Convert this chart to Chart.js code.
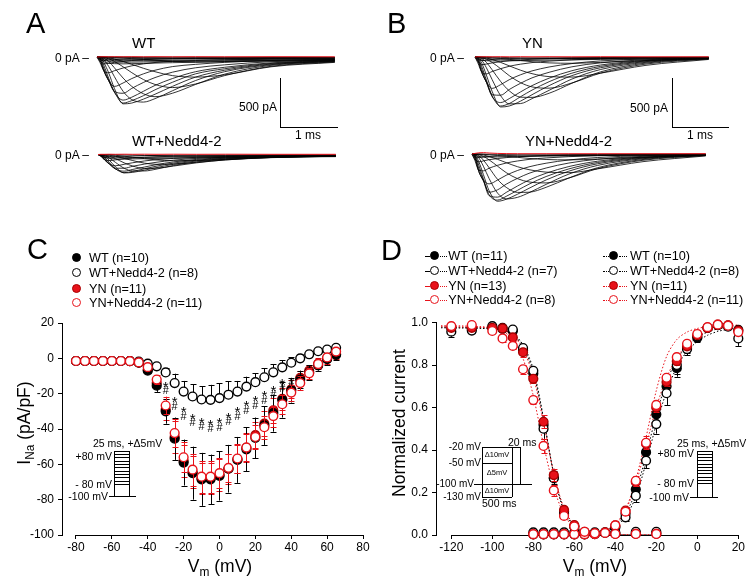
<!DOCTYPE html>
<html><head><meta charset="utf-8">
<script src="https://cdn.jsdelivr.net/npm/chart.js@4.4.1/dist/chart.umd.min.js"></script>
<style>
html,body{margin:0;padding:0;background:#fff;}
#wrap{position:relative;width:750px;height:584px;overflow:hidden;background:#fff;font-family:"Liberation Sans",Arial,sans-serif;color:#000;}
canvas{position:absolute;left:0;top:0;}
.t{position:absolute;white-space:nowrap;line-height:1;}
.ln{position:absolute;background:#000;}
.sb{font-size:0.68em;position:relative;top:0.32em;}
</style></head>
<body><div id="wrap"></div>
<script>
// ---------------- DATA ----------------
// Panels A/B: current traces, time (ms) and current (pA)
const T = [0, 0.05, 0.12, 0.2, 0.3, 0.45, 0.6, 0.8, 1.0, 1.3, 1.7, 2.2, 3.0, 4.1];
const wtRed = [0,2,3,2,3,2,3,2,3,2,3,2,3,2];
const wtTraces = [
 [0,0,0,-1,-2,-3,-5,-7,-9,-12,-14,-14,-12,-10],
 [0,0,-1,-3,-6,-11,-17,-25,-33,-43,-50,-46,-35,-25],
 [0,0,-3,-8,-20,-45,-75,-115,-150,-190,-205,-182,-100,-55],
 [0,-1,-6,-18,-45,-100,-160,-230,-280,-312,-275,-190,-95,-50],
 [0,-2,-14,-45,-110,-215,-300,-375,-405,-370,-280,-175,-85,-46],
 [0,-3,-30,-95,-200,-350,-435,-460,-425,-345,-240,-150,-78,-43],
 [0,-5,-60,-160,-320,-478,-470,-430,-380,-300,-205,-135,-72,-40],
 [0,-10,-90,-215,-355,-470,-445,-395,-335,-258,-172,-120,-66,-38],
 [0,-15,-120,-235,-360,-440,-410,-350,-290,-220,-150,-105,-60,-35],
 [0,-25,-145,-240,-350,-370,-320,-260,-210,-155,-110,-80,-48,-30],
 [0,-35,-145,-240,-300,-265,-220,-172,-135,-98,-75,-55,-36,-25],
 [0,-55,-140,-160,-140,-112,-90,-70,-56,-44,-36,-29,-20,-15],
 [0,-40,-70,-65,-55,-45,-36,-28,-22,-17,-14,-12,-10,-8],
 [0,-25,-35,-30,-26,-22,-19,-16,-14,-12,-10,-9,-7,-6],
 [0,-20,-48,-62,-68,-70,-68,-65,-62,-58,-54,-48,-42,-34],
 [0,-12,-32,-44,-50,-52,-52,-50,-48,-45,-42,-38,-33,-27],
 [0,-8,-20,-30,-36,-38,-38,-37,-36,-34,-31,-28,-24,-20],
 [0,-4,-10,-16,-20,-22,-23,-23,-22,-21,-19,-17,-15,-12],
 [0,0,0,0,-1,-1,-1,-2,-2,-2,-3,-3,-3,-3]
];
const wtnRed = [0,2,2,3,2,3,2,3,2,3,2,3,2,2];
const wtnTraces = [
 [0,0,0,-1,-2,-4,-6,-9,-12,-15,-17,-15,-11,-8],
 [0,0,-1,-3,-8,-17,-28,-42,-55,-64,-62,-50,-30,-18],
 [0,0,-3,-8,-18,-40,-62,-88,-100,-98,-80,-55,-32,-18],
 [0,-1,-6,-18,-42,-85,-118,-142,-140,-118,-85,-55,-30,-17],
 [0,-1,-12,-38,-80,-140,-168,-168,-150,-112,-75,-48,-28,-16],
 [0,-2,-22,-62,-125,-188,-182,-160,-135,-100,-66,-43,-26,-15],
 [0,-4,-35,-85,-145,-185,-172,-146,-120,-88,-58,-38,-24,-14],
 [0,-6,-48,-98,-148,-170,-152,-128,-104,-76,-50,-34,-22,-13],
 [0,-10,-58,-100,-140,-140,-120,-98,-80,-58,-40,-28,-18,-12],
 [0,-14,-58,-98,-115,-100,-84,-66,-53,-40,-29,-21,-14,-10],
 [0,-20,-55,-62,-55,-44,-36,-29,-23,-18,-14,-11,-8,-6],
 [0,-15,-28,-26,-22,-18,-15,-12,-10,-8,-7,-6,-5,-4],
 [0,-12,-30,-40,-45,-46,-45,-43,-40,-37,-34,-30,-26,-22],
 [0,-6,-16,-24,-28,-30,-30,-29,-28,-26,-24,-21,-18,-15]
];
const ynRed = [0,3,2,3,2,3,2,3,2,3,2,3,2,2];
const ynTraces = [
 [0,0,0,-1,-2,-4,-6,-9,-12,-15,-17,-15,-10,-6],
 [0,0,-1,-3,-8,-15,-24,-36,-48,-60,-64,-55,-36,-18],
 [0,0,-3,-10,-25,-55,-90,-135,-170,-200,-205,-165,-85,-25],
 [0,-1,-7,-22,-55,-120,-190,-262,-305,-318,-265,-165,-72,-20],
 [0,-2,-16,-55,-130,-250,-345,-410,-412,-370,-268,-152,-62,-17],
 [0,-3,-35,-110,-230,-395,-478,-475,-425,-340,-225,-128,-54,-15],
 [0,-6,-65,-185,-350,-510,-500,-450,-385,-292,-190,-110,-47,-13],
 [0,-12,-100,-235,-395,-500,-475,-405,-338,-252,-165,-96,-41,-12],
 [0,-18,-130,-255,-405,-465,-425,-356,-292,-216,-140,-82,-36,-11],
 [0,-28,-160,-258,-385,-390,-332,-268,-213,-156,-100,-60,-28,-9],
 [0,-40,-160,-255,-320,-282,-232,-181,-142,-102,-67,-40,-20,-7],
 [0,-60,-155,-172,-148,-119,-95,-73,-57,-42,-29,-18,-10,-4],
 [0,-45,-78,-72,-60,-48,-38,-30,-23,-17,-12,-8,-5,-3],
 [0,-25,-35,-30,-25,-20,-16,-13,-10,-8,-6,-5,-4,-3],
 [0,-14,-32,-38,-40,-40,-39,-37,-35,-32,-29,-25,-21,-17],
 [0,-6,-14,-18,-20,-21,-21,-20,-19,-18,-16,-14,-12,-10]
];
const ynnRed = [0,6,12,14,10,6,4,3,3,3,3,3,3,3];
const ynnTraces = [
 [0,0,0,-1,-2,-4,-6,-8,-11,-14,-16,-14,-9,-5],
 [0,0,-1,-3,-8,-15,-23,-34,-45,-56,-60,-52,-33,-15],
 [0,0,-3,-10,-25,-55,-88,-130,-160,-185,-190,-152,-78,-20],
 [0,-1,-8,-24,-60,-125,-190,-252,-285,-295,-245,-150,-64,-15],
 [0,-2,-18,-62,-140,-260,-340,-392,-390,-340,-245,-140,-56,-13],
 [0,-4,-40,-125,-250,-400,-458,-442,-395,-310,-205,-117,-48,-11],
 [0,-8,-80,-210,-375,-482,-462,-410,-350,-265,-175,-100,-42,-10],
 [0,-14,-115,-255,-415,-470,-432,-370,-308,-230,-152,-87,-37,-9],
 [0,-20,-150,-270,-425,-440,-392,-326,-266,-196,-128,-74,-32,-8],
 [0,-30,-180,-275,-390,-365,-308,-248,-197,-143,-92,-54,-24,-7],
 [0,-45,-180,-265,-305,-265,-217,-168,-131,-94,-61,-36,-17,-5],
 [0,-65,-165,-172,-145,-115,-92,-71,-55,-40,-27,-17,-9,-3],
 [0,-50,-80,-70,-58,-46,-37,-28,-22,-16,-11,-7,-4,-2],
 [0,-28,-36,-30,-25,-20,-16,-13,-10,-8,-6,-4,-3,-2],
 [0,-12,-26,-30,-31,-30,-29,-27,-25,-22,-19,-16,-13,-10]
];

// Panel C: I-V (pA/pF)
const vC = [-80,-75,-70,-65,-60,-55,-50,-45,-40,-35,-30,-25,-20,-15,-10,-5,0,5,10,15,20,25,30,35,40,45,50,55,60,65];
const ivWT    = [-1.5,-1.5,-1.5,-1.5,-1.5,-1.5,-1.6,-2.5,-7,-15.5,-30,-45.5,-59,-65,-68.5,-68.5,-66.5,-62.5,-57.5,-51.5,-45,-38,-31,-23.5,-18,-12,-8,-4,-0.5,2];
const ivWTsem = [0.3,0.3,0.3,0.3,0.3,0.3,0.3,0.5,1.5,3.5,7,12,13,15,15,14,14,13.5,13,12.5,11.5,11,10.5,10,7,5,4,3,3,3];
const ivWTN    = [-1.5,-1.5,-1.5,-1.5,-1.5,-1.5,-1.5,-1.8,-3,-4.5,-8,-14,-18.8,-21.6,-23.3,-23.5,-22.5,-20.6,-18.8,-16,-13.5,-10.7,-7.9,-5.1,-2.5,0,2.3,4,5,6];
const ivWTNsem = [0.2,0.2,0.2,0.2,0.2,0.2,0.2,0.3,0.5,1,2.5,5.3,6,7,7.5,8.5,8.5,7.5,6,5.6,5,5,4.7,4,3,2.5,2,1.5,1,1];
const ivYN    = [-1.5,-1.5,-1.5,-1.5,-1.5,-1.5,-1.6,-2.5,-6.5,-14,-29,-44.5,-58,-64.5,-68,-68,-66,-62.5,-57,-50.5,-43.5,-37,-29.5,-23,-17.5,-11,-7,-3,0,2.5];
const ivYNsem = [0.3,0.3,0.3,0.3,0.3,0.3,0.3,0.5,1.2,3,6,9,9,9,9,9,9,8.5,8,8,7.5,7,7,6,5,4,3,3,3,3];
const ivYNN    = [-1.5,-1.5,-1.5,-1.5,-1.5,-1.5,-1.6,-2.3,-5,-12,-26.7,-42.3,-56,-63,-67,-67,-65,-62,-56.7,-50.5,-44.5,-39,-32.7,-26,-19.4,-14,-8.5,-3.2,0.5,3.8];
const ivYNNsem = [0.3,0.3,0.3,0.3,0.3,0.3,0.3,0.5,1.2,2.5,5,8,8.5,9,9,9,8.5,8,8,7.5,7,6.5,6,5.5,4.5,4,3,2.5,2,2];
const sigStarV = [-30,-25,-20,-15,-10,-5,0,5,10,15,20,25,30,35];
const sigHashV = [-30,-25,-20,-15,-10,-5,0,5,10,15,20,25,30,35,40];
const xTicksC = [-80,-60,-40,-20,0,20,40,60,80];
const yTicksC = [-100,-80,-60,-40,-20,0,20];

// Panel D: steady-state inactivation and activation (normalized)
const vInact = [-120,-110,-100,-95,-90,-85,-80,-75,-70,-65,-60,-55,-50,-40,-30,-20];
const inWT    = [0.975,0.97,0.975,0.97,0.96,0.87,0.76,0.518,0.27,0.11,0.04,0.012,0.005,0.008,0.008,0.008];
const inWTerr = [0.01,0.01,0.01,0.01,0.01,0.02,0.02,0.03,0.03,0.02,0.01,0.005,0.003,0.003,0.003,0.003];
const inWTN    = [0.957,0.962,0.983,0.975,0.967,0.88,0.773,0.5,0.267,0.1,0.04,0.012,0.006,0.012,0.015,0.015];
const inWTNerr = [0.024,0.01,0.01,0.01,0.01,0.02,0.025,0.05,0.04,0.02,0.01,0.005,0.003,0.003,0.003,0.003];
const inYN    = [0.975,0.975,0.975,0.972,0.93,0.86,0.735,0.533,0.282,0.118,0.047,0.015,0.008,0.005,0.005,0.005];
const inYNerr = [0.01,0.01,0.01,0.01,0.015,0.02,0.02,0.03,0.03,0.015,0.01,0.005,0.003,0.003,0.003,0.003];
const inYNN    = [0.983,0.988,0.96,0.925,0.89,0.78,0.635,0.419,0.21,0.09,0.04,0.015,0.008,0.005,0.005,0.005];
const inYNNerr = [0.01,0.01,0.01,0.015,0.015,0.02,0.02,0.035,0.025,0.015,0.01,0.005,0.003,0.003,0.003,0.003];

const vAct = [-80,-75,-70,-65,-60,-55,-50,-45,-40,-35,-30,-25,-20,-15,-10,-5,0,5,10,15,20];
const acWT    = [0.003,0.003,0.003,0.003,0.003,0.003,0.004,0.01,0.04,0.1,0.215,0.39,0.568,0.7,0.785,0.88,0.928,0.975,0.988,0.985,0.965];
const acWTerr = [0,0,0,0,0,0,0.002,0.004,0.01,0.015,0.03,0.025,0.03,0.04,0.04,0.025,0.02,0.01,0.005,0.008,0.01];
const acWTN    = [0.012,0.012,0.012,0.012,0.012,0.012,0.012,0.012,0.035,0.083,0.185,0.35,0.522,0.667,0.8,0.875,0.935,0.975,0.988,0.98,0.925];
const acWTNerr = [0.003,0.003,0.003,0.003,0.003,0.003,0.003,0.005,0.01,0.015,0.03,0.035,0.045,0.055,0.04,0.03,0.02,0.01,0.005,0.01,0.035];
const acYN    = [0.003,0.003,0.003,0.003,0.003,0.003,0.005,0.012,0.045,0.115,0.25,0.43,0.6,0.72,0.818,0.888,0.94,0.975,0.99,0.987,0.962];
const acYNerr = [0,0,0,0,0,0,0.002,0.004,0.01,0.015,0.02,0.02,0.02,0.02,0.02,0.015,0.01,0.01,0.005,0.005,0.01];
const acYNN    = [0.004,0.004,0.004,0.004,0.004,0.004,0.004,0.01,0.045,0.11,0.255,0.434,0.612,0.74,0.837,0.9,0.946,0.978,0.99,0.985,0.955];
const acYNNerr = [0,0,0,0,0,0,0.002,0.004,0.01,0.015,0.025,0.03,0.02,0.02,0.015,0.015,0.01,0.01,0.005,0.005,0.01];

// Boltzmann fit curves (dotted)
const fitVInact = [-125,-115,-105,-100,-95,-90,-85,-80,-75,-70,-65,-60,-55,-50,-45,-40,-30,-20];
const fitInWT  = [0.978,0.977,0.975,0.972,0.965,0.945,0.885,0.765,0.545,0.29,0.12,0.045,0.016,0.006,0.002,0.001,0,0];
const fitInWTN = [0.975,0.974,0.972,0.97,0.965,0.948,0.895,0.78,0.55,0.285,0.112,0.04,0.014,0.005,0.002,0.001,0,0];
const fitInYN  = [0.98,0.979,0.977,0.974,0.965,0.94,0.875,0.745,0.53,0.29,0.125,0.048,0.017,0.006,0.002,0.001,0,0];
const fitInYNN = [0.985,0.984,0.98,0.975,0.96,0.92,0.83,0.655,0.425,0.225,0.095,0.036,0.013,0.005,0.002,0.001,0,0];
const fitVAct = [-80,-70,-60,-55,-50,-45,-40,-35,-30,-25,-20,-15,-10,-5,0,5,10,15,20];
const fitAcWT  = [0,0,0.001,0.003,0.008,0.02,0.045,0.1,0.205,0.375,0.565,0.72,0.825,0.89,0.93,0.955,0.97,0.978,0.982];
const fitAcWTN = [0,0,0.001,0.002,0.006,0.016,0.038,0.085,0.18,0.34,0.52,0.675,0.79,0.865,0.91,0.94,0.958,0.968,0.975];
const fitAcYN  = [0,0,0.001,0.003,0.009,0.022,0.05,0.115,0.24,0.42,0.6,0.74,0.835,0.895,0.935,0.958,0.972,0.98,0.984];
const fitAcYNN = [0,0,0.001,0.003,0.008,0.02,0.05,0.12,0.26,0.46,0.68,0.84,0.92,0.955,0.972,0.98,0.985,0.987,0.988];
const xTicksD = [-120,-100,-80,-60,-40,-20,0,20];
const yTicksD = [0,0.2,0.4,0.6,0.8,1.0];

// ---------------- RENDER ----------------
const RED = '#e8121a', DRED = '#a80000';
const FONT = '"Liberation Sans", Arial, sans-serif';
Chart.defaults.font.family = FONT;
Chart.defaults.color = '#000';
const wrap = document.getElementById('wrap');

function mkCanvas(){
  const c = document.createElement('canvas');
  c.width = 750; c.height = 584; c.style.width = '750px'; c.style.height = '584px';
  wrap.appendChild(c); return c;
}
function txt(s, x, y, size, opt){
  opt = opt || {};
  const d = document.createElement('div'); d.className = 't'; d.innerHTML = s;
  d.style.left = x + 'px'; d.style.top = y + 'px'; d.style.fontSize = size + 'px';
  const ax = opt.align === 'right' ? '-100%' : opt.align === 'center' ? '-50%' : '0';
  d.style.transform = opt.rot ? 'translate(-50%,-50%) rotate(-90deg)' : 'translate(' + ax + ',-50%)';
  if (opt.color) d.style.color = opt.color;
  if (opt.bg) d.style.background = opt.bg;
  wrap.appendChild(d); return d;
}
function line(x1, y1, x2, y2, color){
  const d = document.createElement('div'); d.className = 'ln';
  d.style.left = Math.min(x1, x2) + 'px'; d.style.top = Math.min(y1, y2) + 'px';
  d.style.width = Math.max(Math.abs(x2 - x1), 1) + 'px';
  d.style.height = Math.max(Math.abs(y2 - y1), 1) + 'px';
  if (color) d.style.background = color;
  wrap.appendChild(d);
}
function dotted(x1, x2, y, color){
  const d = document.createElement('div');
  d.style.cssText = 'position:absolute;left:' + x1 + 'px;top:' + y + 'px;width:' + (x2 - x1) + 'px;height:0;border-top:1px dotted ' + color + ';';
  wrap.appendChild(d);
}
function sym(x, y, fill, stroke){
  const d = document.createElement('div');
  d.style.cssText = 'position:absolute;left:' + (x - 5) + 'px;top:' + (y - 5) + 'px;width:7px;height:7px;border-radius:50%;border:1.5px solid ' + stroke + ';background:' + fill + ';';
  wrap.appendChild(d);
}

// trace charts (A,B)
function traceChart(traces, redTrace, g){
  const tmin = -0.05, tmax = 4.15;
  const left = g.t0x + tmin * g.pxms, right = g.t0x + tmax * g.pxms;
  const yMax = (g.zeroY - g.top) / g.pxpa, yMin = -(g.bottom - g.zeroY) / g.pxpa;
  const ds = [{data: T.map((t, i) => ({x: t, y: redTrace[i]})), borderColor: RED, borderWidth: 1}];
  traces.forEach(tr => ds.push({data: T.map((t, i) => ({x: t, y: tr[i]})), borderColor: '#000', borderWidth: 0.8}));
  new Chart(mkCanvas(), {
    type: 'line', data: {datasets: ds},
    options: {
      responsive: false, animation: false, devicePixelRatio: 1, events: [],
      layout: {padding: {left: left, right: 750 - right, top: g.top, bottom: 584 - g.bottom}},
      elements: {point: {radius: 0}, line: {cubicInterpolationMode: 'monotone', fill: false}},
      plugins: {legend: {display: false}, tooltip: {enabled: false}},
      scales: {x: {type: 'linear', min: tmin, max: tmax, display: false},
               y: {type: 'linear', min: yMin, max: yMax, display: false}}
    }
  });
}
const PXPA = 49 / 500;
traceChart(wtTraces, wtRed,  {t0x: 97,  pxms: 58, zeroY: 57,    pxpa: PXPA, top: 45,  bottom: 118});
traceChart(wtnTraces, wtnRed, {t0x: 98,  pxms: 58, zeroY: 154.5, pxpa: PXPA, top: 143, bottom: 186});
traceChart(ynTraces, ynRed,  {t0x: 475, pxms: 57, zeroY: 57,    pxpa: PXPA, top: 45,  bottom: 118});
traceChart(ynnTraces, ynnRed, {t0x: 472, pxms: 57, zeroY: 154,   pxpa: PXPA, top: 140, bottom: 206});

// plugins for C, D
const errPlugin = {id: 'errbars', beforeDatasetDraw(chart, args){
  const ds = chart.data.datasets[args.index]; if (!ds.errors) return;
  const ctx = chart.ctx, ys = chart.scales.y;
  ctx.save(); ctx.strokeStyle = ds.errColor; ctx.lineWidth = 1;
  args.meta.data.forEach((pt, i) => {
    const v = ds.data[i].y, e = ds.errors[i]; if (!e) return;
    const yT = ys.getPixelForValue(v + e), yB = ys.getPixelForValue(v - e);
    const x = Math.round(pt.x) + 0.5;
    const a = ds.errDir === 'down' ? pt.y : yT, b = ds.errDir === 'up' ? pt.y : yB;
    ctx.beginPath(); ctx.moveTo(x, a); ctx.lineTo(x, b);
    if (ds.errDir !== 'down') { ctx.moveTo(x - 3, Math.round(yT) + 0.5); ctx.lineTo(x + 3, Math.round(yT) + 0.5); }
    if (ds.errDir !== 'up') { ctx.moveTo(x - 3, Math.round(yB) + 0.5); ctx.lineTo(x + 3, Math.round(yB) + 0.5); }
    ctx.stroke();
  });
  ctx.restore();
}};
const xLinePlugin = {id: 'xline', beforeDatasetsDraw(chart){
  const xs = chart.scales.x, tk = xs.ticks; const ctx = chart.ctx;
  const y = Math.round(chart.chartArea.bottom) + 0.5;
  ctx.save(); ctx.strokeStyle = '#000'; ctx.lineWidth = 1; ctx.beginPath();
  ctx.moveTo(xs.getPixelForValue(tk[0].value), y); ctx.lineTo(xs.getPixelForValue(tk[tk.length - 1].value), y);
  ctx.stroke(); ctx.restore();
}};
const sigPlugin = {id: 'sig', afterDatasetsDraw(chart){
  const xs = chart.scales.x, ys = chart.scales.y, ctx = chart.ctx;
  ctx.save(); ctx.fillStyle = '#000'; ctx.textAlign = 'center'; ctx.textBaseline = 'alphabetic';
  sigHashV.forEach(v => {
    const i = vC.indexOf(v); const x = xs.getPixelForValue(v);
    const base = ys.getPixelForValue(ivWTN[i] - ivWTNsem[i]);
    if (sigStarV.indexOf(v) >= 0) { ctx.font = '15px ' + FONT; ctx.fillText('*', x, base + 6 + 9); }
    ctx.font = '11px ' + FONT; ctx.fillText('#', x, base + 13 + 4.5);
  });
  ctx.restore();
}};

function pts(xs, ys, errs, dir, bg, bd, ec){
  return {data: xs.map((x, i) => ({x: x, y: ys[i]})), errors: errs, errDir: dir, errColor: ec,
          backgroundColor: bg, borderColor: bd, pointBackgroundColor: bg, pointBorderColor: bd,
          pointRadius: 4.4, pointHoverRadius: 4.4, pointBorderWidth: 1.4, showLine: false, clip: false};
}
function fit(xs, ys, color){
  return {data: xs.map((x, i) => ({x: x, y: ys[i]})), showLine: true, pointRadius: 0, borderColor: color,
          borderWidth: 1, borderDash: [1.5, 2], fill: false, tension: 0.3};
}
function axisOpts(min, max, ticksArr, fmt, isX){
  return {
    type: 'linear', min: min, max: max,
    afterBuildTicks: s => { s.ticks = ticksArr.map(v => ({value: v})); },
    afterFit: s => { if (isX) s.height = 30; else s.width = 40; },
    border: {display: !isX, color: '#000', width: 1},
    grid: {display: true, drawOnChartArea: false, drawTicks: true, tickLength: 4, color: '#000', tickColor: '#000', lineWidth: 1},
    ticks: {font: {size: 12}, color: '#000', padding: isX ? 1 : 4, autoSkip: false, maxRotation: 0, callback: fmt}
  };
}

// Panel C chart: chart area x 62..363, y 323..535
new Chart(mkCanvas(), {
  type: 'scatter',
  data: {datasets: [
    pts(vC, ivYNN, ivYNNsem, 'both', '#fff', RED, RED),
    pts(vC, ivWT, ivWTsem, 'both', '#000', '#000', '#000'),
    pts(vC, ivYN, ivYNsem, 'both', RED, DRED, RED),
    pts(vC, ivWTN, ivWTNsem, 'up', '#fff', '#000', '#000')
  ]},
  options: {
    responsive: false, animation: false, devicePixelRatio: 1, events: [],
    layout: {padding: {left: 22, right: 750 - 363, top: 323, bottom: 584 - 535 - 30}},
    plugins: {legend: {display: false}, tooltip: {enabled: false}},
    scales: {
      x: axisOpts(-80 - 14 / 1.794, 80, xTicksC, v => String(v), true),
      y: axisOpts(-100, 20, yTicksC, v => String(v), false)
    }
  },
  plugins: [errPlugin, xLinePlugin, sigPlugin]
});

// Panel D chart: chart area x 436..738.3, y 322.5..535
new Chart(mkCanvas(), {
  type: 'scatter',
  data: {datasets: [
    pts(vInact, inYNN, inYNNerr, 'both', '#fff', RED, RED),
    pts(vAct, acYNN, acYNNerr, 'both', '#fff', RED, RED),
    pts(vInact, inYN, inYNerr, 'both', RED, DRED, RED),
    pts(vAct, acYN, acYNerr, 'both', RED, DRED, RED),
    pts(vInact, inWTN, inWTNerr, 'down', '#fff', '#000', '#000'),
    pts(vAct, acWTN, acWTNerr, 'down', '#fff', '#000', '#000'),
    pts(vInact, inWT, inWTerr, 'both', '#000', '#000', '#000'),
    pts(vAct, acWT, acWTerr, 'both', '#000', '#000', '#000'),
    fit(fitVInact, fitInYNN, RED), fit(fitVInact, fitInYN, RED),
    fit(fitVInact, fitInWTN, '#000'), fit(fitVInact, fitInWT, '#000'),
    fit(fitVAct, fitAcYNN, RED), fit(fitVAct, fitAcYN, RED),
    fit(fitVAct, fitAcWTN, '#000'), fit(fitVAct, fitAcWT, '#000')
  ]},
  options: {
    responsive: false, animation: false, devicePixelRatio: 1, events: [],
    layout: {padding: {left: 396, right: 750 - 738.3, top: 322.5, bottom: 584 - 535 - 30}},
    plugins: {legend: {display: false}, tooltip: {enabled: false}},
    scales: {
      x: axisOpts(-120 - (451.3 - 436) / 2.05, 20, xTicksD, v => String(v), true),
      y: axisOpts(0, 1, yTicksD, v => v.toFixed(1), false)
    }
  },
  plugins: [errPlugin, xLinePlugin]
});

// ---------------- TEXT / ANNOTATIONS ----------------
txt('A', 26, 23, 29); txt('B', 387, 23, 29); txt('C', 27, 249, 29); txt('D', 381, 250, 29);
txt('WT', 132, 42, 15); txt('WT+Nedd4-2', 132, 140, 15);
txt('YN', 522, 42, 15); txt('YN+Nedd4-2', 525, 140, 15);
txt('0 pA \u2013', 55, 58, 12); txt('0 pA \u2013', 55, 155, 12);
txt('0 pA \u2013', 430, 58, 12); txt('0 pA \u2013', 430, 155, 12);
// scale bars
line(280, 78, 280, 127); line(280, 127, 338, 127);
txt('500 pA', 277, 107, 12, {align: 'right'}); txt('1 ms', 295, 135, 12);
line(672, 78, 672, 127); line(672, 127, 729, 127);
txt('500 pA', 668, 108, 12, {align: 'right'}); txt('1 ms', 687, 135, 12);

// legend C
const legC = [['WT (n=10)', '#000', '#000'], ['WT+Nedd4-2 (n=8)', '#fff', '#000'], ['YN (n=11)', RED, DRED], ['YN+Nedd4-2 (n=11)', '#fff', RED]];
const legCy = [258.3, 273.3, 289, 303.3];
legC.forEach((l, i) => { sym(77.3, legCy[i], l[1], l[2]); txt(l[0], 89, legCy[i], 12.7); });

// legend D
const legDL = [['WT (n=11)', '#000', '#000', '#000'], ['WT+Nedd4-2 (n=7)', '#fff', '#000', '#000'], ['YN (n=13)', RED, DRED, RED], ['YN+Nedd4-2 (n=8)', '#fff', RED, RED]];
const legDR = [['WT (n=10)', '#000', '#000', '#000'], ['WT+Nedd4-2 (n=8)', '#fff', '#000', '#000'], ['YN (n=11)', RED, DRED, RED], ['YN+Nedd4-2 (n=11)', '#fff', RED, RED]];
const legDy = [255.7, 271, 286, 300];
legDL.forEach((l, i) => { const y = legDy[i]; line(425, y, 430, y + 1, l[3]); dotted(440, 447, y, l[3]); sym(435, y, l[1], l[2]); txt(l[0], 448.3, y, 12.7); });
legDR.forEach((l, i) => { const y = legDy[i]; dotted(603, 609, y, l[3]); dotted(619, 627, y, l[3]); sym(614, y, l[1], l[2]); txt(l[0], 630, y, 12.7); });

// axis titles
txt('I<span class="sb">Na</span> (pA/pF)', 25, 423, 17.5, {rot: true});
txt('V<span class="sb">m</span> (mV)', 220, 567, 17.5, {align: 'center'});
txt('Normalized current', 400, 423, 17.5, {rot: true});
txt('V<span class="sb">m</span> (mV)', 595, 567, 17.5, {align: 'center'});

// protocol inset C
function stepProto(bl, br, top, stepBot, bot, lineL, lineR){
  line(bl, top, bl, bot); line(br, top, br, bot);
  for (let k = 0; k <= 10; k++) { const y = top + k * (stepBot - top) / 10; line(bl, y, br, y + 1); }
  line(lineL, bot, lineR, bot + 1);
}
stepProto(114.3, 129.3, 450.7, 484, 495.7, 109, 136);
txt('25 ms, +\u03945mV', 93, 443, 10.5);
txt('+80 mV', 112, 456, 10.5, {align: 'right'});
txt('- 80 mV', 112, 484, 10.5, {align: 'right'});
txt('-100 mV', 108, 496, 10.5, {align: 'right'});
// protocol inset D right
stepProto(696.7, 712.3, 450.7, 483, 496.7, 690, 718);
txt('25 ms, +\u03945mV', 677, 443, 10.5);
txt('+80 mV', 694, 453.3, 10.5, {align: 'right'});
txt('- 80 mV', 694, 483, 10.5, {align: 'right'});
txt('-100 mV', 689, 496.7, 10.5, {align: 'right'});
// protocol inset D left
line(482.3, 446.7, 482.3, 496.7); line(511.7, 446.7, 511.7, 496.7);
line(482.3, 446.7, 520, 447.7); line(482.3, 496.7, 511.7, 497.7);
line(482.3, 462.7, 511.7, 463.7); line(474, 484.3, 531.7, 485.3);
line(520, 446.7, 520, 484.3);
txt('-20 mV', 481, 446.7, 10, {align: 'right'});
txt('-50 mV', 481, 462.7, 10, {align: 'right'});
txt('-100 mV', 474, 484.3, 10, {align: 'right'});
txt('-130 mV', 481, 496.5, 10, {align: 'right'});
txt('\u039410mV', 497, 455, 7.5, {align: 'center'});
txt('\u03945mV', 497, 473, 7.5, {align: 'center'});
txt('\u039410mV', 497, 490.7, 7.5, {align: 'center'});
txt('500 ms', 482, 502.5, 10.5);
txt('20 ms', 508, 441.7, 10.5);
</script>
</body></html>
